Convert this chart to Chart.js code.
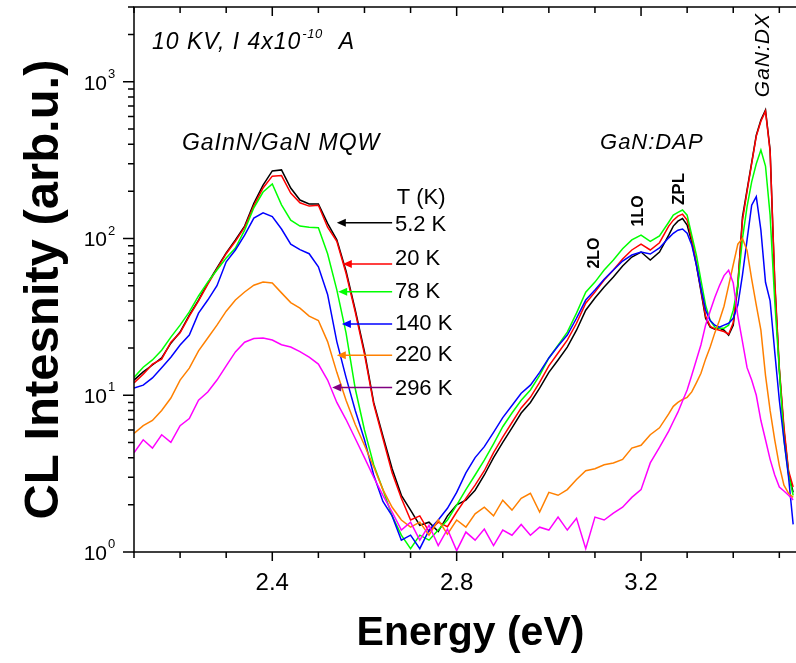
<!DOCTYPE html>
<html>
<head>
<meta charset="utf-8">
<script src="https://cdn.jsdelivr.net/npm/chart.js@4.4.1/dist/chart.umd.min.js"></script>
<style>
  html, body { margin: 0; padding: 0; background: #fff; }
  canvas { display: block; }
</style>
</head>
<body>
<canvas id="myChart" width="796" height="663"></canvas>
<script>
// photon energy (eV), shared by all spectra
var energy = [
  2.10, 2.12, 2.14, 2.16, 2.18, 2.20, 2.22, 2.24, 2.26, 2.28,
  2.30, 2.32, 2.34, 2.36, 2.38, 2.40, 2.42, 2.44, 2.46, 2.48,
  2.50, 2.52, 2.54, 2.56, 2.58, 2.60, 2.62, 2.64, 2.66, 2.68,
  2.70, 2.72, 2.74, 2.76, 2.78, 2.80, 2.82, 2.84, 2.86, 2.88,
  2.90, 2.92, 2.94, 2.96, 2.98, 3.00, 3.02, 3.04, 3.06, 3.08,
  3.10, 3.12, 3.14, 3.16, 3.18, 3.20, 3.22, 3.24, 3.26, 3.27,
  3.28, 3.29, 3.30, 3.31, 3.32, 3.33, 3.34, 3.35, 3.36, 3.37,
  3.38, 3.39, 3.40, 3.41, 3.42, 3.43, 3.44, 3.45, 3.46, 3.47,
  3.48, 3.49, 3.50, 3.51, 3.52, 3.53
];

// CL intensity (arb.u.) per temperature
var cl5K = [
  12.5, 14.1, 15.6, 17.3, 21.5, 25.3, 32.5, 40.5, 52, 65,
  81, 98, 120, 168, 219, 270, 274, 210, 176, 166,
  166, 125, 98, 62, 35, 19, 9.0, 5.5, 3.4, 2.3,
  1.85, 1.48, 1.55, 1.35, 1.7, 2.0, 2.14, 2.48, 3.1, 4.0,
  5.0, 6.2, 7.7, 9.0, 11.1, 14, 16.8, 20.3, 26, 34.9,
  41.7, 49, 56.8, 66.8, 76.2, 82, 73, 82, 105, 120,
  129, 134, 122, 95, 68, 46, 31, 27.2, 26.4, 26.8,
  26, 24.2, 28, 50, 137, 204, 305, 456, 570, 660,
  367, 52, 14.5, 6, 3.2, 2.4
];
var cl20K = [
  12.0, 13.6, 15.8, 17.0, 21.8, 25.0, 32, 40, 51, 64,
  80, 96, 118, 162, 210, 250, 252, 195, 169, 161,
  163, 118, 96, 60, 34, 18.3, 8.8, 5.3, 3.2, 2.2,
  1.6, 1.7, 1.35, 1.55, 1.45, 1.8, 2.2, 2.67, 3.3, 4.3,
  5.4, 6.7, 8.3, 9.7, 12.1, 15.4, 18.6, 22.5, 28.8, 38.7,
  45.5, 54.3, 63, 74, 84.5, 92, 84.5, 94, 120, 131,
  139, 143, 131, 100, 70, 47, 32, 27.5, 26.5, 26,
  25.5, 24.5, 29, 52, 130, 200, 300, 450, 560, 650,
  360, 55, 15, 6.3, 3.3, 2.6
];
var cl78K = [
  13, 15.1, 16.8, 19.4, 23.5, 28, 34, 43, 52.7, 63,
  75, 87, 113, 157, 198, 223, 164, 131, 120, 118,
  117, 80, 47, 25, 11, 6, 3.6, 2.5, 1.7, 1.28,
  1.05, 1.28, 1.19, 1.38, 1.6, 1.99, 2.5, 3.1, 3.85, 4.9,
  6.3, 7.7, 9.3, 10.8, 13.4, 17.3, 20.9, 25.3, 33.4, 45.5,
  52.7, 63, 73, 86, 98, 105, 96, 104, 127, 141,
  147, 152, 141, 105, 78.5, 54, 37.6, 30, 27.2, 26.8,
  26.8, 28, 34.9, 50, 100, 160, 230, 300, 367, 290,
  141, 40, 14.5, 5.2, 3.1, 2.3
];
var cl140K = [
  11.1, 11.6, 12.9, 15, 17.5, 20.9, 24.2, 33.4, 40.5, 50,
  71, 84.5, 105, 135, 146, 138, 115, 92, 85, 80,
  66, 44, 22, 13, 8, 5.2, 3.1, 2.1, 1.7, 1.19,
  1.28, 1.05, 1.38, 1.6, 1.9, 2.4, 3.2, 4.0, 4.7, 5.8,
  7.2, 8.6, 10.3, 11.6, 14, 17.3, 20.6, 24.2, 31, 40.5,
  46.9, 55, 63, 71.8, 78.5, 82, 79.6, 87, 101, 108,
  113, 115, 108, 91, 68, 48, 35, 30, 28, 27.2,
  28, 28.8, 31, 37.6, 58.5, 98, 163, 185, 113, 52.6,
  40, 19, 9.3, 5.2, 3, 1.5
];
var cl220K = [
  5.7, 6.4, 6.9, 8, 9.6, 12.5, 14.9, 19.2, 23.2, 28,
  34.4, 40.5, 45.6, 50.4, 52.7, 52, 45, 39, 36, 32,
  30, 22, 14, 9.3, 6.5, 4.8, 3.5, 2.5, 1.93, 1.6,
  1.44, 1.55, 1.28, 1.6, 1.3, 1.6, 1.44, 1.75, 1.93, 1.7,
  2.14, 1.85, 2.2, 2.37, 1.8, 2.4, 2.3, 2.5, 2.9, 3.3,
  3.4, 3.6, 3.7, 3.9, 4.6, 4.8, 5.6, 6.2, 7.6, 8.5,
  9, 9.4, 9.7, 10.5, 12, 13.8, 17, 20.3, 25, 30,
  37, 50, 68, 92, 100, 84, 55, 37.6, 26, 13.4,
  8, 5.2, 3.56, 2.67, 2.37, 2.23
];
var cl296K = [
  4.3, 5.2, 4.6, 5.6, 5.0, 6.4, 7.1, 9.3, 10.5, 12.5,
  15.4, 18.9, 21.8, 23, 23.2, 22.5, 21, 20.3, 19, 17.5,
  15.8, 12.5, 9, 7, 5.3, 4, 3.0, 2.3, 1.8, 1.38,
  1.55, 1.19, 1.48, 1.1, 1.4, 1.02, 1.34, 1.19, 1.4, 1.1,
  1.38, 1.28, 1.5, 1.28, 1.44, 1.38, 1.67, 1.38, 1.64, 1.05,
  1.67, 1.6, 1.77, 1.93, 2.23, 2.5, 3.7, 4.65, 5.9, 6.8,
  7.8, 9.2, 10.8, 13.4, 16.8, 21, 28, 34.5, 42, 50,
  58, 62.8, 52, 32, 22, 15, 12.5, 10, 6.9, 5.2,
  3.9, 3.1, 2.6, 2.45, 2.3, 2.15
];

var seriesNames = ['5.2 K', '20 K', '78 K', '140 K', '220 K', '296 K'];
var seriesData = [cl5K, cl20K, cl78K, cl140K, cl220K, cl296K];
var seriesColors = ['#000000', '#ff0000', '#00ff00', '#0000ff', '#ff8000', '#ff00ff'];
var arrowColors = ['#000000', '#ff0000', '#00ff00', '#0000ff', '#ff8000', '#800080'];

// tick labels
var xTicks = [2.4, 2.8, 3.2];
var xTickLabels = ['2.4', '2.8', '3.2'];
var yTicks = [1, 10, 100, 1000];
var yTickExps = ['0', '1', '2', '3'];

// where the temperature labels and their arrows sit (energy, intensity)
var labelLevel = [122, 74.5, 45.7, 28.7, 18.0, 11.0];
var arrowLevel = [126, 68.7, 45.7, 28.5, 18.0, 11.2];
var arrowTipE = [2.540, 2.553, 2.543, 2.551, 2.540, 2.530];

Chart.defaults.font.family = 'Liberation Sans, Arial, sans-serif';

function toPoints(values) {
  return energy.map(function (e, i) { return { x: e, y: values[i] }; });
}

function txt(ctx, s, px, py, font, opt) {
  opt = opt || {};
  ctx.save();
  ctx.font = font;
  ctx.fillStyle = opt.color || '#000';
  ctx.textAlign = opt.align || 'left';
  ctx.textBaseline = opt.base || 'middle';
  if ('letterSpacing' in ctx) ctx.letterSpacing = (opt.ls || 0) + 'px';
  ctx.translate(px, py);
  if (opt.rot) ctx.rotate(opt.rot);
  ctx.fillText(s, 0, 0);
  var w = ctx.measureText(s).width;
  ctx.restore();
  return w;
}

var overlay = {
  id: 'overlay',
  afterDatasetsDraw: function (chart) {
    var ctx = chart.ctx, a = chart.chartArea;
    var xs = chart.scales.x, ys = chart.scales.y;
    var i, k, v, px, py, len;
    ctx.save();
    ctx.strokeStyle = '#000';
    ctx.lineWidth = 1.5;

    // frame, right edge runs off the picture
    ctx.beginPath();
    ctx.moveTo(a.right + 2, a.bottom);
    ctx.lineTo(a.left, a.bottom);
    ctx.lineTo(a.left, a.top);
    ctx.lineTo(a.right + 2, a.top);
    ctx.stroke();

    // x ticks: outward at bottom, inward at top
    ctx.beginPath();
    for (k = 21; k <= 35; k++) {
      v = k / 10;
      px = xs.getPixelForValue(v);
      len = xTicks.indexOf(v) >= 0 ? 9 : 6;
      ctx.moveTo(px, a.bottom); ctx.lineTo(px, a.bottom + len);
      ctx.moveTo(px, a.top); ctx.lineTo(px, a.top + len);
    }
    // y ticks, outward
    yTicks.forEach(function (d) {
      py = ys.getPixelForValue(d);
      ctx.moveTo(a.left - 11, py); ctx.lineTo(a.left, py);
      for (var m = 2; m <= 9; m++) {
        if (m * d > 3000) break;
        py = ys.getPixelForValue(m * d);
        ctx.moveTo(a.left - 6, py); ctx.lineTo(a.left, py);
      }
    });
    ctx.stroke();

    // tick labels
    xTicks.forEach(function (t, j) {
      txt(ctx, xTickLabels[j], xs.getPixelForValue(t), a.bottom + 31, '24px Liberation Sans', { align: 'center' });
    });
    yTicks.forEach(function (t, j) {
      py = ys.getPixelForValue(t);
      txt(ctx, '10', a.left - 27, py + 2, '21px Liberation Sans', { align: 'right' });
      txt(ctx, yTickExps[j], a.left - 26, py - 4, '13px Liberation Sans', { base: 'alphabetic' });
    });

    // axis titles
    txt(ctx, 'Energy (eV)', (a.left + a.right) / 2 + 6, 645, 'bold 41px Liberation Sans', { align: 'center', base: 'alphabetic' });
    txt(ctx, 'CL Intesnity (arb.u.)', 58, (a.top + a.bottom) / 2 + 10, 'bold 49px Liberation Sans',
      { align: 'center', base: 'alphabetic', rot: -Math.PI / 2 });

    // conditions note with superscript
    px = xs.getPixelForValue(2.139);
    py = ys.getPixelForValue(1770);
    var w = txt(ctx, '10 KV, I 4x10', px, py, 'italic 23px Liberation Sans', { ls: 1 });
    var ws = txt(ctx, '-10', px + w + 1, py - 9, 'italic 13px Liberation Sans', { ls: 0.5 });
    txt(ctx, 'A', px + w + ws + 17, py, 'italic 23px Liberation Sans');

    // band labels
    txt(ctx, 'GaInN/GaN MQW', xs.getPixelForValue(2.204), ys.getPixelForValue(404), 'italic 23px Liberation Sans', { ls: 1 });
    txt(ctx, 'GaN:DAP', xs.getPixelForValue(3.111), ys.getPixelForValue(410), 'italic 22px Liberation Sans', { ls: 1 });
    txt(ctx, '2LO', xs.getPixelForValue(3.100), ys.getPixelForValue(80.8), 'bold 16px Liberation Sans', { align: 'center', rot: -Math.PI / 2 });
    txt(ctx, '1LO', xs.getPixelForValue(3.195), ys.getPixelForValue(150), 'bold 16px Liberation Sans', { align: 'center', rot: -Math.PI / 2 });
    txt(ctx, 'ZPL', xs.getPixelForValue(3.284), ys.getPixelForValue(207), 'bold 17px Liberation Sans', { align: 'center', rot: -Math.PI / 2 });
    txt(ctx, 'GaN:DX', xs.getPixelForValue(3.464), ys.getPixelForValue(1480), 'italic 21px Liberation Sans', { align: 'center', ls: 1, rot: -Math.PI / 2 });

    // temperature labels with arrows pointing at the curves
    txt(ctx, 'T (K)', xs.getPixelForValue(2.670), ys.getPixelForValue(181), '22px Liberation Sans');
    var x0 = xs.getPixelForValue(2.66);
    for (i = 0; i < seriesNames.length; i++) {
      txt(ctx, seriesNames[i], xs.getPixelForValue(2.666), ys.getPixelForValue(labelLevel[i]), '22px Liberation Sans');
      py = ys.getPixelForValue(arrowLevel[i]);
      px = xs.getPixelForValue(arrowTipE[i]);
      ctx.strokeStyle = arrowColors[i];
      ctx.fillStyle = arrowColors[i];
      ctx.lineWidth = 1.5;
      ctx.beginPath();
      ctx.moveTo(x0, py); ctx.lineTo(px + 6, py);
      ctx.stroke();
      ctx.beginPath();
      ctx.moveTo(px, py); ctx.lineTo(px + 9, py - 4); ctx.lineTo(px + 9, py + 4);
      ctx.closePath();
      ctx.fill();
    }
    ctx.restore();
  }
};

var datasets = seriesData.map(function (vals, i) {
  return {
    label: seriesNames[i],
    data: toPoints(vals),
    borderColor: seriesColors[i],
    backgroundColor: seriesColors[i],
    borderWidth: 1.5,
    pointRadius: 0,
    fill: false,
    tension: 0,
    order: 6 - i
  };
});

var chart = new Chart(document.getElementById('myChart').getContext('2d'), {
  type: 'line',
  data: { datasets: datasets },
  options: {
    responsive: false,
    animation: false,
    devicePixelRatio: 1,
    layout: { padding: { top: 7, right: 1, left: 0, bottom: 0 } },
    plugins: {
      legend: { display: false },
      tooltip: { enabled: false }
    },
    scales: {
      x: {
        type: 'linear',
        min: 2.1,
        max: 3.534,
        grid: { display: false },
        border: { display: false },
        ticks: { display: false },
        afterFit: function (s) { s.height = 111; }
      },
      y: {
        type: 'logarithmic',
        min: 1,
        max: 3000,
        grid: { display: false },
        border: { display: false },
        ticks: { display: false },
        afterFit: function (s) { s.width = 134; }
      }
    }
  },
  plugins: [overlay]
});
</script>
</body>
</html>
